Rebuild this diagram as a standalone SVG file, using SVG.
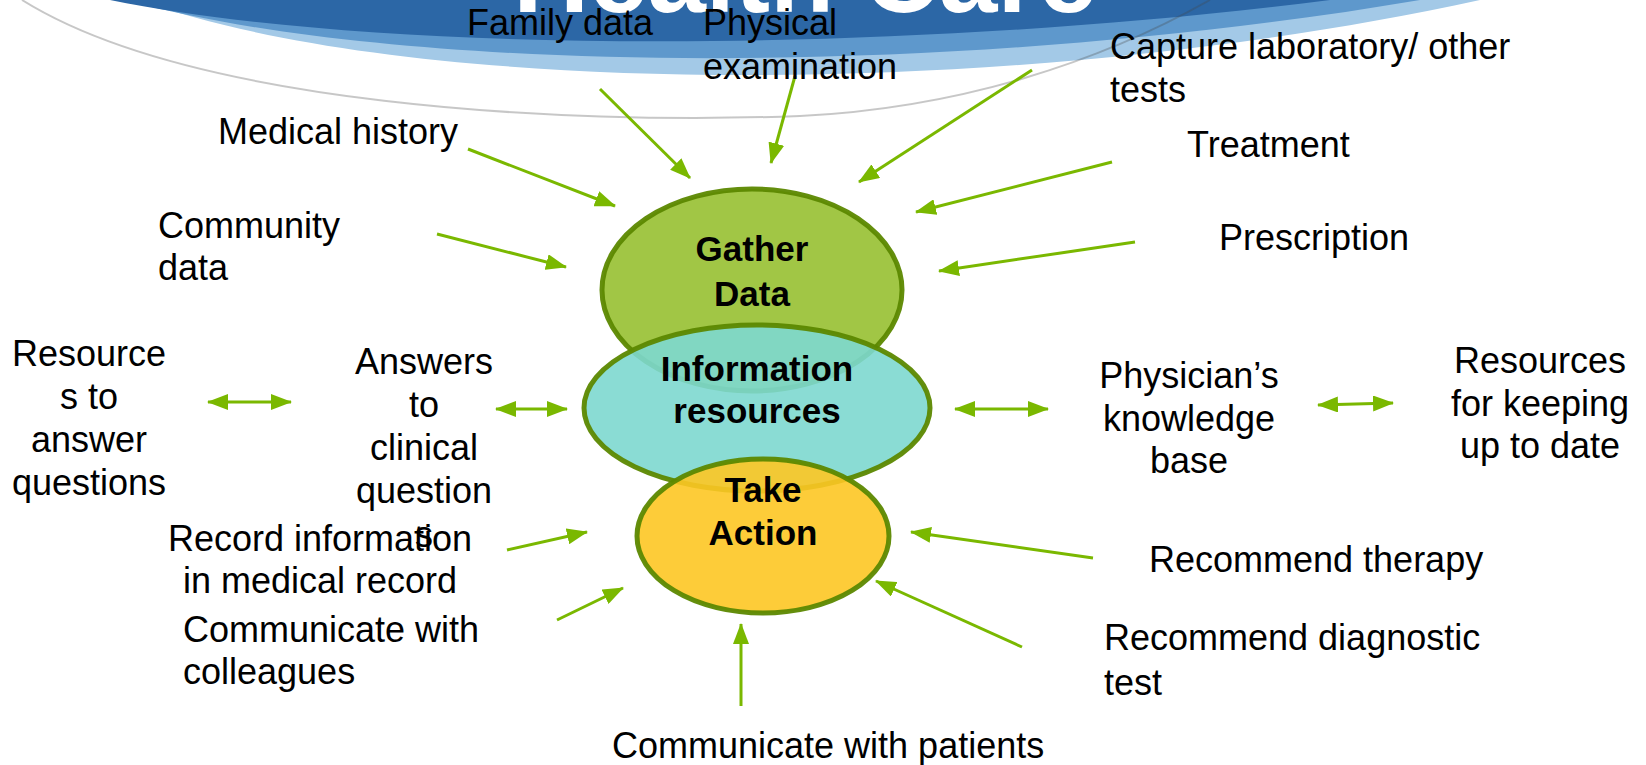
<svg xmlns="http://www.w3.org/2000/svg" width="1646" height="765" viewBox="0 0 1646 765">
<style>
.t{font-family:"Liberation Sans",Arial,sans-serif;font-size:36px;fill:#000}
.m{text-anchor:middle}
.b{font-family:"Liberation Sans",Arial,sans-serif;font-size:35px;font-weight:bold;fill:#000;text-anchor:middle}
.c{fill:none;stroke:#7ab800;stroke-width:3}
.e{stroke:#5c8800;stroke-width:5;fill-opacity:0.9;stroke-opacity:0.95}
</style>
<defs>
<marker id="ah" markerUnits="userSpaceOnUse" markerWidth="22" markerHeight="16" refX="20" refY="8" orient="auto-start-reverse">
<path d="M0,0 L21,8 L0,16 Z" fill="#7ab800"/>
</marker>
</defs>
<rect width="1646" height="765" fill="#fff"/>
<g id="banner">
<path d="M140 0 C400 95 1000 105 1480 0 Z" fill="#a3c9e7"/>
<path d="M125 0 C400 75 950 80 1420 0 Z" fill="#5e98cc"/>
<path d="M110 0 C380 55 900 55 1330 0 Z" fill="#2c67a6"/>
<path d="M22 0 C190 105 560 125 800 116 C960 108 1100 62 1210 0" fill="none" stroke="#444" stroke-opacity="0.3" stroke-width="2"/>
<text x="805" y="12" font-family="Liberation Sans,Arial,sans-serif" font-size="105" font-weight="bold" fill="#fff" text-anchor="middle">Health Care</text>
</g>
<g id="connectors">
<line class="c" x1="600" y1="89" x2="690" y2="178" marker-end="url(#ah)"/>
<line class="c" x1="795" y1="76" x2="771" y2="163" marker-end="url(#ah)"/>
<line class="c" x1="1032" y1="70" x2="859" y2="182" marker-end="url(#ah)"/>
<line class="c" x1="468" y1="149" x2="615" y2="206" marker-end="url(#ah)"/>
<line class="c" x1="1112" y1="162" x2="916" y2="212" marker-end="url(#ah)"/>
<line class="c" x1="1135" y1="242" x2="939" y2="271" marker-end="url(#ah)"/>
<line class="c" x1="437" y1="234" x2="566" y2="267" marker-end="url(#ah)"/>
<line class="c" x1="208" y1="402" x2="291" y2="402" marker-start="url(#ah)" marker-end="url(#ah)"/>
<line class="c" x1="496" y1="409" x2="567" y2="409" marker-start="url(#ah)" marker-end="url(#ah)"/>
<line class="c" x1="955" y1="409" x2="1048" y2="409" marker-start="url(#ah)" marker-end="url(#ah)"/>
<line class="c" x1="1318" y1="405" x2="1393" y2="403" marker-start="url(#ah)" marker-end="url(#ah)"/>
<line class="c" x1="507" y1="550" x2="587" y2="532" marker-end="url(#ah)"/>
<line class="c" x1="557" y1="620" x2="623" y2="588" marker-end="url(#ah)"/>
<line class="c" x1="741" y1="706" x2="741" y2="624" marker-end="url(#ah)"/>
<line class="c" x1="1093" y1="558" x2="911" y2="532" marker-end="url(#ah)"/>
<line class="c" x1="1022" y1="647" x2="876" y2="581" marker-end="url(#ah)"/>
</g>
<g id="gather">
<ellipse class="e" cx="752" cy="290" rx="150" ry="101" fill="#97c031"/>
<text class="b" x="752" y="261">Gather</text>
<text class="b" x="752" y="306">Data</text>
</g>
<g id="info">
<ellipse class="e" cx="757" cy="408" rx="173" ry="83" fill="#7dd8cf"/>
<text class="b" x="757" y="381">Information</text>
<text class="b" x="757" y="423">resources</text>
</g>
<g id="action">
<ellipse class="e" cx="763" cy="536" rx="126" ry="77" fill="#fdc623"/>
<text class="b" x="763" y="502">Take</text>
<text class="b" x="763" y="545">Action</text>
</g>
<g id="family"><text class="t" x="467" y="35">Family data</text></g>
<g id="physical"><text class="t" x="703" y="35">Physical</text><text class="t" x="703" y="79">examination</text></g>
<g id="capture"><text class="t" x="1110" y="59">Capture laboratory/ other</text><text class="t" x="1110" y="102">tests</text></g>
<g id="medical"><text class="t" x="218" y="144">Medical history</text></g>
<g id="treatment"><text class="t" x="1187" y="157">Treatment</text></g>
<g id="community"><text class="t" x="158" y="238">Community</text><text class="t" x="158" y="280">data</text></g>
<g id="prescription"><text class="t" x="1219" y="250">Prescription</text></g>
<g id="resources-answer"><text class="t m" x="89" y="366">Resource</text><text class="t m" x="89" y="409">s to</text><text class="t m" x="89" y="452">answer</text><text class="t m" x="89" y="495">questions</text></g>
<g id="answers"><text class="t m" x="424" y="374">Answers</text><text class="t m" x="424" y="417">to</text><text class="t m" x="424" y="460">clinical</text><text class="t m" x="424" y="503">question</text><text class="t m" x="424" y="547">s</text></g>
<g id="physician"><text class="t m" x="1189" y="388">Physician’s</text><text class="t m" x="1189" y="431">knowledge</text><text class="t m" x="1189" y="473">base</text></g>
<g id="keeping"><text class="t m" x="1540" y="373">Resources</text><text class="t m" x="1540" y="416">for keeping</text><text class="t m" x="1540" y="458">up to date</text></g>
<g id="record"><text class="t m" x="320" y="551">Record information</text><text class="t m" x="320" y="593">in medical record</text></g>
<g id="colleagues"><text class="t" x="183" y="642">Communicate with</text><text class="t" x="183" y="684">colleagues</text></g>
<g id="therapy"><text class="t" x="1149" y="572">Recommend therapy</text></g>
<g id="diagnostic"><text class="t" x="1104" y="650">Recommend diagnostic</text><text class="t" x="1104" y="695">test</text></g>
<g id="patients"><text class="t" x="612" y="758">Communicate with patients</text></g>
</svg>
